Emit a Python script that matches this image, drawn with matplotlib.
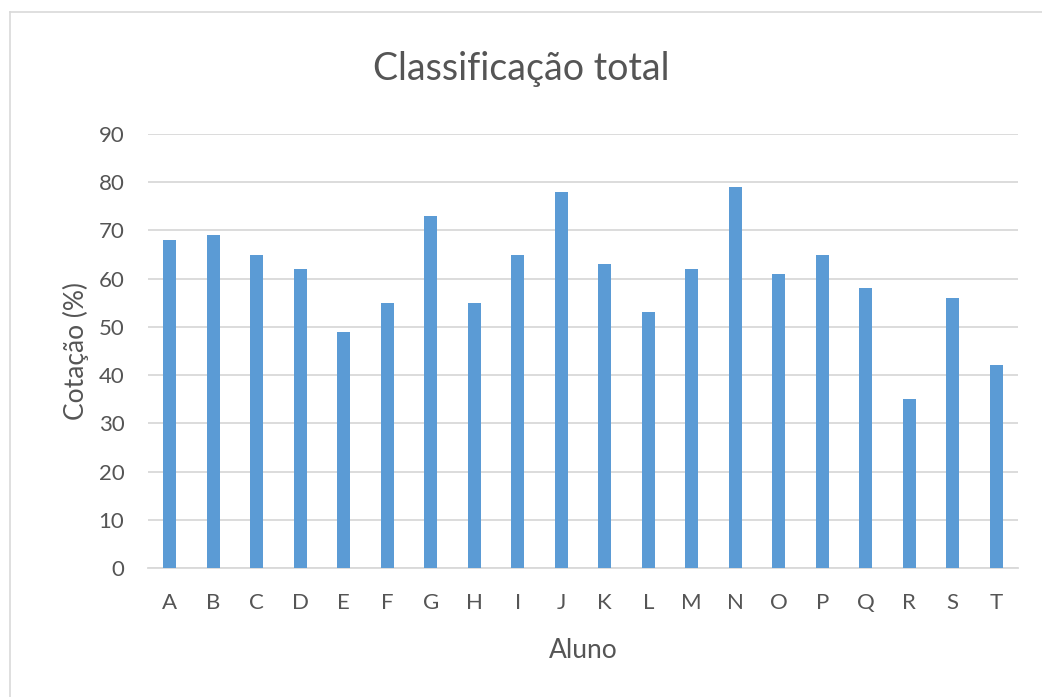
import matplotlib
matplotlib.use("Agg")
import matplotlib.pyplot as plt
from matplotlib.lines import Line2D

alunos = ["A", "B", "C", "D", "E", "F", "G", "H", "I", "J",
          "K", "L", "M", "N", "O", "P", "Q", "R", "S", "T"]
cotacao = [68, 69, 65, 62, 49, 55, 73, 55, 65, 78,
           63, 53, 62, 79, 61, 65, 58, 35, 56, 42]
yticks = [0, 10, 20, 30, 40, 50, 60, 70, 80, 90]

plt.rcParams['font.family'] = ['Lato', 'DejaVu Sans']
text_color = '#555555'

fig = plt.figure(figsize=(10.42, 6.97), dpi=100)
ax = fig.add_axes([148/1042, 1-568/697, (1018-148)/1042, (568-134)/697])

x = list(range(len(alunos)))
ax.bar(x, cotacao, width=0.3, color='#5B9BD5', zorder=3)
ax.set_xlim(-0.5, len(alunos) - 0.5)
ax.set_ylim(0, 90)
ax.set_yticks(yticks)
ax.set_xticks(x)
ax.set_xticklabels(alunos)
ax.grid(axis='y', color='#D9D9D9', linewidth=1.3, zorder=0)
for s in ['top', 'right', 'left']:
    ax.spines[s].set_visible(False)
ax.spines['bottom'].set_color('#D9D9D9')
ax.spines['bottom'].set_linewidth(1.3)
ax.tick_params(axis='both', length=0, labelsize=16, colors=text_color)
ax.tick_params(axis='y', pad=17)
ax.tick_params(axis='x', pad=18)
ax.set_xlabel('Aluno', fontsize=19, color=text_color, labelpad=18)
ax.set_ylabel('Cotação (%)', fontsize=19, color=text_color, labelpad=7)
fig.text(0.5, 1-80/697, 'Classificação total', ha='center', va='baseline',
         fontsize=27, color=text_color)

# chart frame (top and left visible)
fig.add_artist(Line2D([10/1042, 10/1042], [0, 1-12/697], transform=fig.transFigure,
                      color='#D9D9D9', linewidth=1.2))
fig.add_artist(Line2D([10/1042, 1], [1-12/697, 1-12/697], transform=fig.transFigure,
                      color='#D9D9D9', linewidth=1.2))

fig.savefig('out.png', dpi=100, facecolor='white')
